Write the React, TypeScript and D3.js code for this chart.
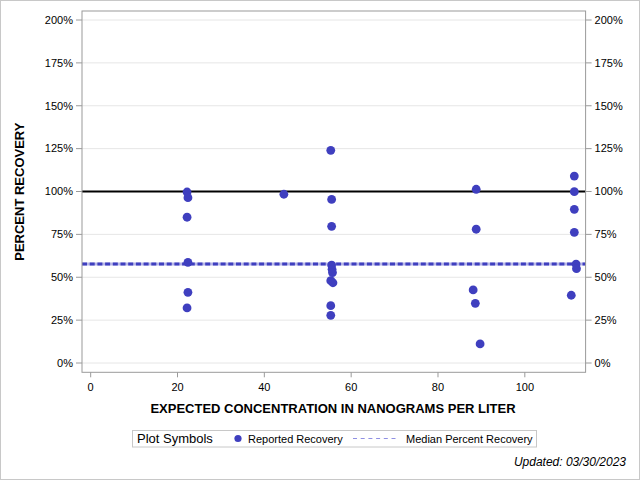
import React from "react";
import * as d3 from "d3";

const expectedConc: number[] = [
  22.2, 22.4, 22.2, 22.4, 22.4, 22.2, 44.5,
  55.3, 55.5, 55.5, 55.5, 55.6, 55.7, 55.3, 55.8, 55.3, 55.3,
  88.8, 88.8, 88.1, 88.6, 89.7,
  111.4, 111.4, 111.4, 111.4, 111.8, 111.9, 110.7,
];
const percentRecovery: number[] = [
  99.7, 96.4, 85.0, 58.7, 41.2, 32.1, 98.4,
  124.0, 95.4, 79.7, 57.1, 54.6, 52.7, 48.0, 46.8, 33.4, 27.8,
  101.3, 78.0, 42.6, 34.8, 11.1,
  109.0, 99.9, 89.6, 76.2, 57.7, 55.0, 39.5,
];
const yTicks: number[] = [0, 25, 50, 75, 100, 125, 150, 175, 200];
const xTicks: number[] = [0, 20, 40, 60, 80, 100];
const xTitle = "EXPECTED CONCENTRATION IN NANOGRAMS PER LITER";
const yTitle = "PERCENT RECOVERY";
const legendTitle = "Plot Symbols";
const legendItems = ["Reported Recovery", "Median Percent Recovery"];
const updatedText = "Updated: 03/30/2023";

const FONT = "'Liberation Sans', Arial, sans-serif";
const DOT = "#3f3fbf";

export default function App() {
  const left = 82, right = 585.6, top = 11, bottom = 372.3;
  const x = d3.scaleLinear().domain([-2, 114]).range([left, right]);
  const y = d3.scaleLinear().domain([-5.42, 205.25]).range([bottom, top]);
  const median = d3.median(percentRecovery) as number;
  const yFmt = (v: number) => `${v}%`;

  return (
    <svg
      width={640}
      height={480}
      style={{ position: "absolute", left: 0, top: 0, background: "#fff" }}
      fontFamily={FONT}
    >
      <rect x={0.5} y={0.5} width={639} height={479} fill="#fff" stroke="#c8c8c8" />
      {/* gridlines */}
      {yTicks.map((t) => (
        <line key={"g" + t} x1={left} x2={right} y1={y(t)} y2={y(t)} stroke="#e6e6e6" strokeWidth={1} />
      ))}
      {/* reference line at 100 */}
      <line x1={left} x2={right} y1={y(100)} y2={y(100)} stroke="#000" strokeWidth={2} />
      {/* median line */}
      <line x1={left} x2={right} y1={y(median)} y2={y(median)} stroke="#b8b8e8" strokeWidth={3} />
      <line x1={left} x2={right} y1={y(median)} y2={y(median)} stroke="#3f3fbf" strokeWidth={3} strokeDasharray="5,2.7" />
      {/* points */}
      {expectedConc.map((c, i) => (
        <circle key={"p" + i} cx={x(c)} cy={y(percentRecovery[i])} r={4.4} fill={DOT} />
      ))}
      {/* frame */}
      <rect x={left} y={top} width={right - left} height={bottom - top} fill="none" stroke="#9a9a9a" strokeWidth={1} />
      {/* left and right axes */}
      {yTicks.map((t) => (
        <g key={"yl" + t}>
          <line x1={left - 6} x2={left} y1={y(t)} y2={y(t)} stroke="#9a9a9a" />
          <text x={left - 9} y={y(t)} dy="0.35em" textAnchor="end" fontSize={11} fill="#000">
            {yFmt(t)}
          </text>
          <line x1={right} x2={right + 6} y1={y(t)} y2={y(t)} stroke="#9a9a9a" />
          <text x={right + 9} y={y(t)} dy="0.35em" textAnchor="start" fontSize={11} fill="#000">
            {yFmt(t)}
          </text>
        </g>
      ))}
      {/* x axis */}
      {xTicks.map((t) => (
        <g key={"xt" + t}>
          <line x1={x(t)} x2={x(t)} y1={bottom} y2={bottom + 5} stroke="#9a9a9a" />
          <text x={x(t)} y={bottom + 19} textAnchor="middle" fontSize={11} fill="#000">
            {t}
          </text>
        </g>
      ))}
      <text x={333} y={413} textAnchor="middle" fontSize={13} fontWeight="bold" fill="#000">
        {xTitle}
      </text>
      <text
        transform={`translate(24,${(top + bottom) / 2}) rotate(-90)`}
        textAnchor="middle"
        fontSize={13}
        fontWeight="bold"
        fill="#000"
      >
        {yTitle}
      </text>
      {/* legend */}
      <rect x={132.5} y={430.5} width={404} height={16.5} fill="#fff" stroke="#c8c8c8" />
      <text x={137} y={443} fontSize={13} fill="#000">{legendTitle}</text>
      <circle cx={238} cy={438.5} r={3.6} fill={DOT} />
      <text x={248} y={442.5} fontSize={11} fill="#000">{legendItems[0]}</text>
      <line x1={353} x2={398} y1={438.5} y2={438.5} stroke="#9090e4" strokeWidth={1} strokeDasharray="4,3.7" />
      <text x={406} y={442.5} fontSize={11} fill="#000">{legendItems[1]}</text>
      <text x={626} y={466} textAnchor="end" fontSize={12} fontStyle="italic" fill="#000">
        {updatedText}
      </text>
    </svg>
  );
}
